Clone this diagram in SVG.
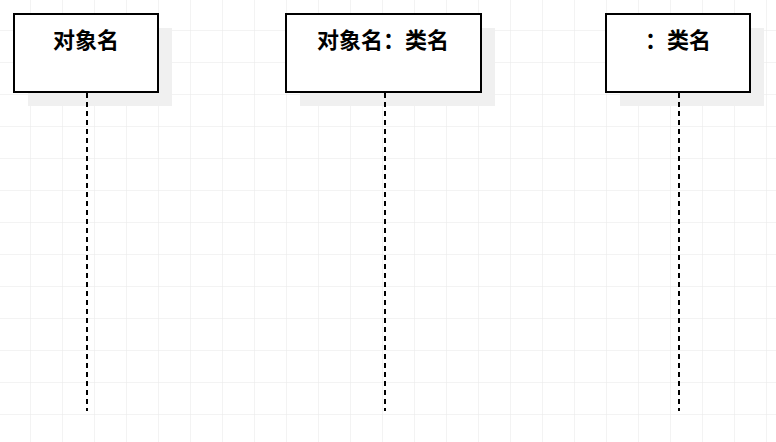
<svg xmlns="http://www.w3.org/2000/svg" width="776" height="442" viewBox="0 0 776 442">
<defs>
<pattern id="g" x="30" y="30" width="32" height="32" patternUnits="userSpaceOnUse"><path d="M0 0H32M0 0V32" fill="none" stroke="#e8e8e8" stroke-width="1"/></pattern>
</defs>
<style>
.b{fill:#fff;stroke:#000;stroke-width:2}
.s{fill:#f0f0f0}
.t{font-family:"Liberation Sans","Noto Sans CJK SC",sans-serif;font-size:22px;font-weight:bold;text-anchor:middle}
.l{stroke:#000;stroke-width:2;stroke-dasharray:5 4}
</style>
<rect width="776" height="442" fill="#fff"/>
<rect width="776" height="442" fill="url(#g)"/>
<g id="n1"><rect class="s" x="28" y="28" width="144" height="78"/><rect class="b" x="14" y="14" width="144" height="78"/><text class="t" x="86" y="48">对象名</text></g>
<g id="n2"><rect class="s" x="300" y="28" width="195" height="78"/><rect class="b" x="286" y="14" width="195" height="78"/><text class="t" x="383" y="48">对象名：类名</text></g>
<g id="n3"><rect class="s" x="620" y="28" width="144" height="78"/><rect class="b" x="606" y="14" width="144" height="78"/><text class="t" x="678" y="48">：类名</text></g>
<g id="connectors">
<line class="l" x1="87" y1="93" x2="87" y2="411"/>
<line class="l" x1="385" y1="93" x2="385" y2="411"/>
<line class="l" x1="679" y1="93" x2="679" y2="411"/>
</g>
</svg>
